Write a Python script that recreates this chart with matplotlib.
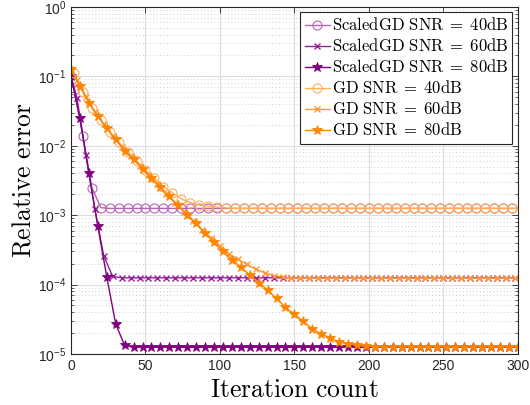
import numpy as np
import matplotlib
matplotlib.use("Agg")
import matplotlib.pyplot as plt
from matplotlib.ticker import FixedLocator, LogLocator, NullFormatter

plt.rcParams["mathtext.fontset"] = "cm"
plt.rcParams["mathtext.rm"] = "Liberation Sans"
plt.rcParams["mathtext.it"] = "Liberation Sans:italic"
plt.rcParams["mathtext.bf"] = "Liberation Sans:bold"
plt.rcParams["mathtext.sf"] = "Liberation Sans"

# ---- data: relative error sampled at the marker iterations ----
# ScaledGD, SNR = 80 dB (iterations 0, 6, ..., 300)
sgd80_iter = list(range(0, 301, 6))
sgd80_err = [0.1, 0.025, 0.004, 6.9e-4, 1.29e-4, 2.7e-5, 1.33e-5] + [1.25e-5] * 44

# ScaledGD, SNR = 60 dB (iteration 0, then 4, 10, ..., 298, and 300)
sgd60_iter = [0] + list(range(4, 299, 6)) + [300]
sgd60_err = [0.1, 0.049, 0.0073, 0.00123, 2.56e-4, 1.31e-4] + [1.25e-4] * 46

# ScaledGD, SNR = 40 dB (iteration 0, then 2, 8, ..., 296, and 300)
sgd40_iter = [0] + list(range(2, 297, 6)) + [300]
sgd40_err = [0.1, 0.063, 0.0136, 0.0025, 1.28e-3] + [1.25e-3] * 47

# GD, SNR = 80 dB (iterations 0, 6, ..., 300)
gd80_iter = list(range(0, 301, 6))
gd80_err = [0.126, 0.0724, 0.0417, 0.0269, 0.0178, 0.0123, 0.00851, 0.00646,
            0.00468, 0.00347, 0.00251, 0.00186, 0.00138, 0.00102, 7.59e-4,
            5.50e-4, 4.07e-4, 3.02e-4, 2.29e-4, 1.78e-4, 1.38e-4, 1.07e-4,
            8.32e-5, 6.31e-5, 4.68e-5, 3.72e-5, 2.95e-5, 2.29e-5, 1.95e-5,
            1.70e-5, 1.48e-5, 1.41e-5, 1.33e-5, 1.29e-5] + [1.27e-5] * 17

# GD, SNR = 60 dB (iteration 0, then 4, 10, ..., 298, and 300)
gd60_iter = [0] + list(range(4, 299, 6)) + [300]
gd60_err = [0.126, 0.0871, 0.0501, 0.0309, 0.0204, 0.0138, 0.00955, 0.00708,
            0.00513, 0.0038, 0.00282, 0.00204, 0.00151, 0.00112, 8.32e-4,
            6.17e-4, 4.68e-4, 3.55e-4, 2.75e-4, 2.34e-4, 1.95e-4, 1.66e-4,
            1.48e-4, 1.35e-4, 1.29e-4, 1.245e-4] + [1.24e-4] * 26

# GD, SNR = 40 dB (iteration 0, then 2, 8, ..., 296, and 300)
gd40_iter = [0] + list(range(2, 297, 6)) + [300]
gd40_err = [0.126, 0.110, 0.0603, 0.0355, 0.0234, 0.0158, 0.0112, 0.00813,
            0.00603, 0.00447, 0.00339, 0.00257, 0.0021, 0.00172, 0.00152,
            0.00140, 0.00134, 0.00130, 0.00127] + [1.25e-3] * 33

x_ticks = [0, 50, 100, 150, 200, 250, 300]
x_tick_labels = ["0", "50", "100", "150", "200", "250", "300"]
y_ticks = [1e-5, 1e-4, 1e-3, 1e-2, 1e-1, 1e0]
y_tick_labels = [r"$10^{-5}$", r"$10^{-4}$", r"$10^{-3}$",
                 r"$10^{-2}$", r"$10^{-1}$", r"$10^{0}$"]

series = [
    (sgd40_iter, sgd40_err, "#b564b5", "o", slice(1, -1),
     r"$\mathrm{ScaledGD\ SNR}\;=\;40\mathrm{dB}$"),
    (sgd60_iter, sgd60_err, "#962096", "x", slice(1, -1),
     r"$\mathrm{ScaledGD\ SNR}\;=\;60\mathrm{dB}$"),
    (sgd80_iter, sgd80_err, "#800080", "*", None,
     r"$\mathrm{ScaledGD\ SNR}\;=\;80\mathrm{dB}$"),
    (gd40_iter, gd40_err, "#ffae5c", "o", slice(1, -1),
     r"$\mathrm{GD\ SNR}\;=\;40\mathrm{dB}$"),
    (gd60_iter, gd60_err, "#ff9a33", "x", slice(1, -1),
     r"$\mathrm{GD\ SNR}\;=\;60\mathrm{dB}$"),
    (gd80_iter, gd80_err, "#ff8400", "*", None,
     r"$\mathrm{GD\ SNR}\;=\;80\mathrm{dB}$"),
]

fig = plt.figure(figsize=(5.30, 4.05), dpi=100)
ax = fig.add_axes([0.134, 0.126, 0.843, 0.857])

for it, err, color, marker, mevery, label in series:
    kw = dict(color=color, lw=1.0, marker=marker, markevery=mevery, label=label)
    if marker == "o":
        kw.update(markersize=6.5, markerfacecolor="none", markeredgewidth=0.8)
    elif marker == "x":
        kw.update(markersize=4.5, markeredgewidth=1.0)
    else:
        kw.update(markersize=7.5, markerfacecolor=color, markeredgewidth=0.6)
    ax.plot(it, err, **kw)

ax.set_yscale("log")
ax.set_xlim(0, 300)
ax.set_ylim(1e-5, 1e0)
ax.xaxis.set_major_locator(FixedLocator(x_ticks))
ax.set_xticklabels(x_tick_labels, family="Liberation Sans")
ax.set_yticks(y_ticks)
ax.set_yticklabels(y_tick_labels, math_fontfamily="custom")
ax.yaxis.set_minor_locator(LogLocator(base=10, subs=np.arange(2, 10), numticks=20))
ax.yaxis.set_minor_formatter(NullFormatter())

ax.grid(True, which="major", color="#dedede", lw=0.8, ls="-")
ax.grid(True, which="minor", axis="y", color="#cfcfcf", lw=0.7, ls=(0, (1, 2.5)))
ax.set_axisbelow(True)

ax.tick_params(which="both", direction="in", top=True, right=True,
               colors="#262626", labelsize=10)
ax.tick_params(which="major", length=4, width=0.6)
ax.tick_params(which="minor", length=2, width=0.5)
for s in ax.spines.values():
    s.set_color("#262626")
    s.set_linewidth(0.8)

ax.set_xlabel(r"$\mathrm{Iteration\ count}$", fontsize=18.5, labelpad=3)
ax.set_ylabel(r"$\mathrm{Relative\ error}$", fontsize=18.5, labelpad=1)

leg = ax.legend(loc="upper right", fontsize=12, frameon=True, fancybox=False,
                edgecolor="#262626", framealpha=1.0, handlelength=1.5,
                handletextpad=0.12, borderpad=0.25, labelspacing=0.18,
                borderaxespad=0.32)
leg.get_frame().set_linewidth(0.8)

fig.savefig("out.png", dpi=100)
